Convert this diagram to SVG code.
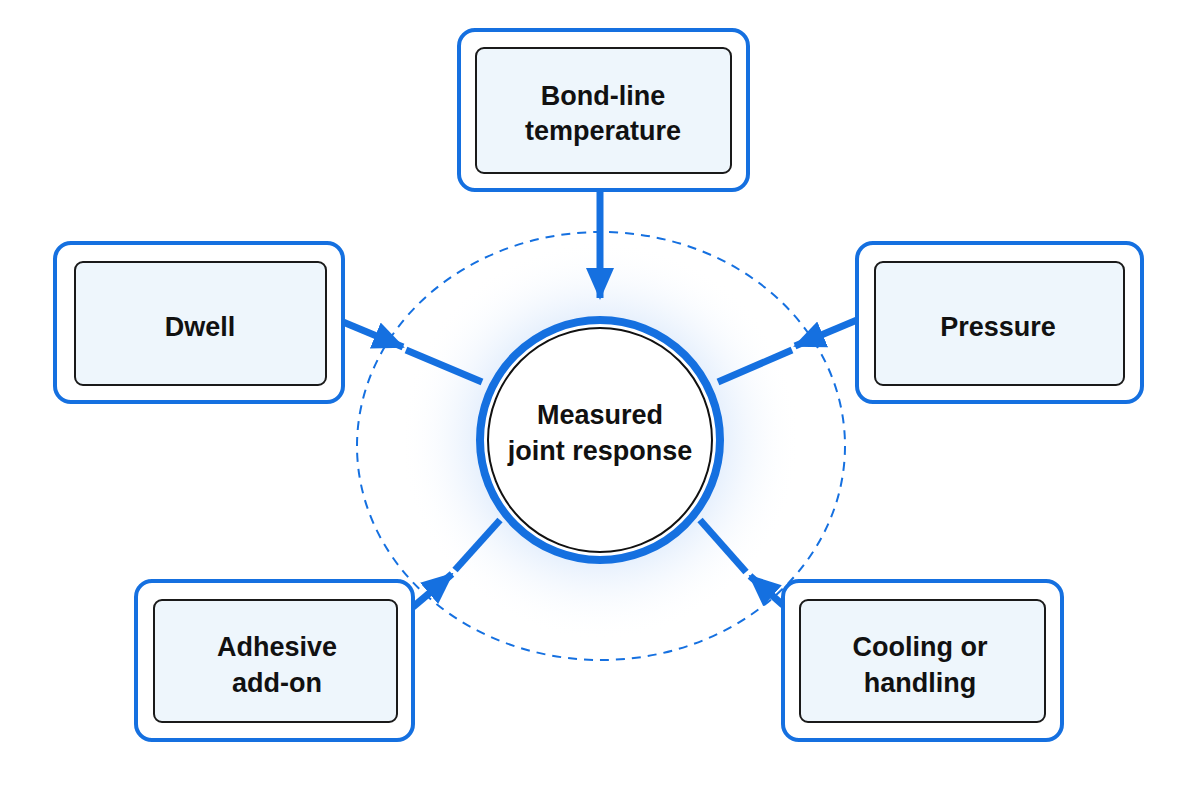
<svg xmlns="http://www.w3.org/2000/svg" width="1200" height="800" viewBox="0 0 1200 800">
<defs>
<style>
.outer{fill:#fff;stroke:#1570e0;stroke-width:4}
.inner{fill:#eef6fc;stroke:#1a1a1a;stroke-width:2}
.t{font-family:"Liberation Sans",Arial,sans-serif;font-weight:bold;font-size:27px;fill:#111;text-anchor:middle}
.c{stroke:#1570e0;stroke-width:7;fill:none}
</style>
<marker id="ah" markerUnits="userSpaceOnUse" markerWidth="32" markerHeight="28" refX="30" refY="14" orient="auto"><path d="M0,0L32,14L0,28z" fill="#1570e0"/></marker>
<radialGradient id="glow"><stop offset="0.5" stop-color="#d6e6fb"/><stop offset="1" stop-color="#fff" stop-opacity="0"/></radialGradient>
</defs>
<rect width="1200" height="800" fill="#fff"/>
<circle cx="600" cy="440" r="200" fill="url(#glow)"/>
<ellipse cx="601" cy="446" rx="244" ry="214" fill="none" stroke="#1570e0" stroke-width="2" stroke-dasharray="9,7"/>
<g id="connectors">
<line class="c" x1="600" y1="190" x2="600" y2="298" marker-end="url(#ah)"/>
<line class="c" x1="343" y1="322" x2="403" y2="347" marker-end="url(#ah)"/>
<line class="c" x1="406" y1="350" x2="482" y2="382"/>
<line class="c" x1="857" y1="320" x2="795" y2="346" marker-end="url(#ah)"/>
<line class="c" x1="792" y1="350" x2="718" y2="382"/>
<line class="c" x1="413" y1="607" x2="452" y2="574" marker-end="url(#ah)"/>
<line class="c" x1="455" y1="570" x2="500" y2="520"/>
<line class="c" x1="783" y1="605" x2="750" y2="576" marker-end="url(#ah)"/>
<line class="c" x1="746" y1="572" x2="700" y2="520"/>
</g>
<g id="center"><circle cx="600" cy="440" r="120" fill="#fff" stroke="#1570e0" stroke-width="8"/><circle cx="600" cy="440" r="112" fill="#fff" stroke="#111" stroke-width="2"/>
<text class="t" x="600" y="424">Measured</text><text class="t" x="600" y="460">joint response</text></g>
<g id="top"><rect class="outer" x="459" y="30" width="289" height="160" rx="16"/><rect class="inner" x="476" y="48" width="255" height="125" rx="8"/><text class="t" x="603" y="105">Bond-line</text><text class="t" x="603" y="140">temperature</text></g>
<g id="dwell"><rect class="outer" x="55" y="243" width="288" height="159" rx="16"/><rect class="inner" x="75" y="262" width="251" height="123" rx="8"/><text class="t" x="200" y="336">Dwell</text></g>
<g id="pressure"><rect class="outer" x="857" y="243" width="285" height="159" rx="16"/><rect class="inner" x="875" y="262" width="249" height="123" rx="8"/><text class="t" x="998" y="336">Pressure</text></g>
<g id="adhesive"><rect class="outer" x="136" y="581" width="277" height="159" rx="16"/><rect class="inner" x="154" y="600" width="243" height="122" rx="8"/><text class="t" x="277" y="656">Adhesive</text><text class="t" x="277" y="692">add-on</text></g>
<g id="cooling"><rect class="outer" x="783" y="581" width="279" height="159" rx="16"/><rect class="inner" x="800" y="600" width="245" height="122" rx="8"/><text class="t" x="920" y="656">Cooling or</text><text class="t" x="920" y="692">handling</text></g>
</svg>
